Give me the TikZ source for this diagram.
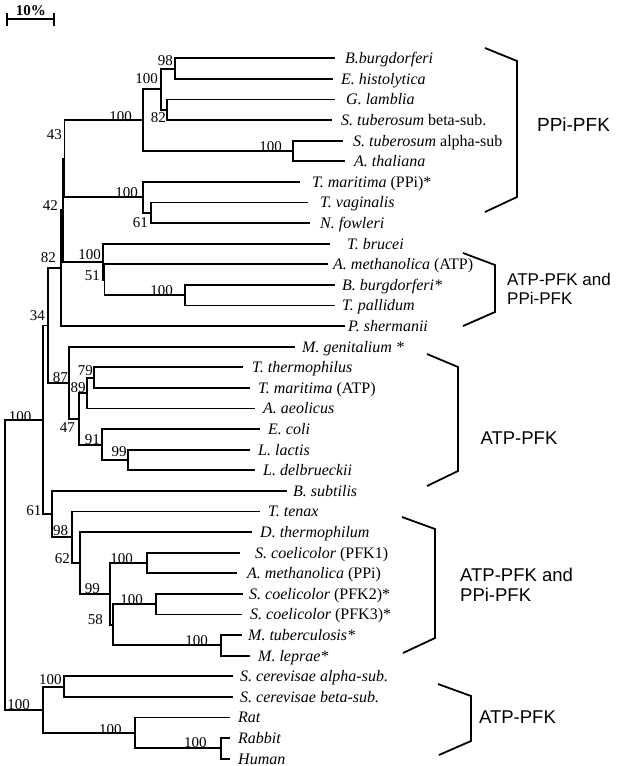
\documentclass[tikz,border=0pt]{standalone}
\usepackage{fontspec}
\setmainfont{Liberation Serif}
\newfontfamily\grpfont{Liberation Sans}
\usepackage{tikz}

\tikzset{
  branch/.style={line width=1.9pt, line join=miter},
  taxon/.style={anchor=base west, inner sep=0pt, font=\fontsize{16}{18}\selectfont},
  boot/.style={anchor=base east, inner sep=0pt, font=\fontsize{15}{17}\selectfont},
  clamp/.style={line width=1.8pt, line join=miter},
  group/.style={align=left, inner sep=0pt},
}

\begin{document}
\begin{tikzpicture}[x=1pt, y=-1pt]
  \useasboundingbox (0,0) rectangle (625,766);

  % scale bar
  \draw[branch] (7,19) -- (54,19) (7,13) -- (7,26) (54,13) -- (54,26);
  \node[inner sep=0pt, font=\bfseries\fontsize{15}{17}\selectfont] (scale) at (31,10.5) {10\%};

  % tree nodes
  \coordinate (root) at (5,564.8);
  \coordinate (n61b) at (43,419.8);
  \coordinate (n34) at (48.3,325.45);
  \coordinate (n82b) at (61,268.15);
  \coordinate (n42) at (63,210.2);
  \coordinate (n43) at (64.5,158.7);
  \coordinate (n100c) at (143,120.1);
  \coordinate (n100a) at (161,89.2);
  \coordinate (n98) at (175,68.6);
  \coordinate (n82a) at (167,109.8);
  \coordinate (n100b) at (293,151);
  \coordinate (n100d) at (143,197.35);
  \coordinate (n61a) at (151,212.8);
  \coordinate (n100f) at (103,261.7);
  \coordinate (n51) at (104.5,279.75);
  \coordinate (n100e) at (185,295.2);
  \coordinate (n87) at (69.3,382.75);
  \coordinate (n47) at (79,418.8);
  \coordinate (n89) at (86.7,393.05);
  \coordinate (n79) at (94,377.6);
  \coordinate (n91) at (101.7,444.55);
  \coordinate (n99a) at (128,460);
  \coordinate (n98b) at (51.7,514.1);
  \coordinate (n62) at (72.3,537.25);
  \coordinate (ndt) at (80,563);
  \coordinate (n99b) at (110,593.9);
  \coordinate (n100g) at (146.7,563);
  \coordinate (n58) at (113.3,624.8);
  \coordinate (n100h) at (155.7,604.2);
  \coordinate (n100i) at (221,645.4);
  \coordinate (n100m) at (43.3,709.8);
  \coordinate (n100j) at (64,686.6);
  \coordinate (n100l) at (135,733);
  \coordinate (n100k) at (220.7,748.4);

  % leaf ends and taxa
  \coordinate (e1) at (335,58.3);   \node[taxon] (t1) at (345,63.6) {\textit{B.burgdorferi}};
  \coordinate (e2) at (333,78.9);   \node[taxon] (t2) at (341,84.2) {\textit{E. histolytica}};
  \coordinate (e3) at (335,99.5);   \node[taxon] (t3) at (346,104.8) {\textit{G. lamblia}};
  \coordinate (e4) at (332,120.1);  \node[taxon] (t4) at (341,125.4) {\textit{S. tuberosum} beta-sub.};
  \coordinate (e5) at (343,140.7);  \node[taxon] (t5) at (353,146.0) {\textit{S. tuberosum} alpha-sub};
  \coordinate (e6) at (345,161.3);  \node[taxon] (t6) at (354,166.6) {\textit{A. thaliana}};
  \coordinate (e7) at (300,181.9);  \node[taxon] (t7) at (312,187.2) {\textit{T. maritima} (PPi)*};
  \coordinate (e8) at (308,202.5);  \node[taxon] (t8) at (320,207.8) {\textit{T. vaginalis}};
  \coordinate (e9) at (310,223.1);  \node[taxon] (t9) at (320,228.4) {\textit{N. fowleri}};
  \coordinate (e10) at (330,243.7); \node[taxon] (t10) at (347,249.0) {\textit{T. brucei}};
  \coordinate (e11) at (328,264.3); \node[taxon] (t11) at (333,269.6) {\textit{A. methanolica} (ATP)};
  \coordinate (e12) at (335,284.9); \node[taxon] (t12) at (342,290.2) {\textit{B. burgdorferi*}};
  \coordinate (e13) at (335,305.5); \node[taxon] (t13) at (342,310.8) {\textit{T. pallidum}};
  \coordinate (e14) at (345,326.1); \node[taxon] (t14) at (348,331.4) {\textit{P. shermanii}};
  \coordinate (e15) at (295,346.7); \node[taxon] (t15) at (302,352.0) {\textit{M. genitalium *}};
  \coordinate (e16) at (243,367.3); \node[taxon] (t16) at (252,372.6) {\textit{T. thermophilus}};
  \coordinate (e17) at (250,387.9); \node[taxon] (t17) at (258,393.2) {\textit{T. maritima} (ATP)};
  \coordinate (e18) at (255,408.5); \node[taxon] (t18) at (263,413.8) {\textit{A. aeolicus}};
  \coordinate (e19) at (260,429.1); \node[taxon] (t19) at (268,434.4) {\textit{E. coli}};
  \coordinate (e20) at (250,449.7); \node[taxon] (t20) at (258,455.0) {\textit{L. lactis}};
  \coordinate (e21) at (255,470.3); \node[taxon] (t21) at (263,475.6) {\textit{L. delbrueckii}};
  \coordinate (e22) at (287,490.9); \node[taxon] (t22) at (293,496.2) {\textit{B. subtilis}};
  \coordinate (e23) at (260,511.5); \node[taxon] (t23) at (268,516.8) {\textit{T. tenax}};
  \coordinate (e24) at (252,532.1); \node[taxon] (t24) at (260,537.4) {\textit{D. thermophilum}};
  \coordinate (e25) at (240,552.7); \node[taxon] (t25) at (255,558.0) {\textit{S. coelicolor} (PFK1)};
  \coordinate (e26) at (237,573.3); \node[taxon] (t26) at (247,578.6) {\textit{A. methanolica} (PPi)};
  \coordinate (e27) at (243,593.9); \node[taxon] (t27) at (249,599.2) {\textit{S. coelicolor} (PFK2)*};
  \coordinate (e28) at (242,614.5); \node[taxon] (t28) at (250,619.8) {\textit{S. coelicolor} (PFK3)*};
  \coordinate (e29) at (242,635.1); \node[taxon] (t29) at (248,640.4) {\textit{M. tuberculosis*}};
  \coordinate (e30) at (250,655.7); \node[taxon] (t30) at (258,661.0) {\textit{M. leprae*}};
  \coordinate (e31) at (233,676.3); \node[taxon] (t31) at (240,681.6) {\textit{S. cerevisae alpha-sub.}};
  \coordinate (e32) at (233,696.9); \node[taxon] (t32) at (240,702.2) {\textit{S. cerevisae beta-sub.}};
  \coordinate (e33) at (230,717.5); \node[taxon] (t33) at (238,722.8) {\textit{Rat}};
  \coordinate (e34) at (230,738.1); \node[taxon] (t34) at (238,743.4) {\textit{Rabbit}};
  \coordinate (e35) at (230,758.7); \node[taxon] (t35) at (238,764.0) {\textit{Human}};

  % branches
  \draw[branch] (root) |- (n61b) (root) |- (n100m)
    (n61b) |- (n34) (n61b) |- (n98b)
    (n34) |- (n82b) (n34) |- (n87)
    (n82b) |- (n42) (n82b) |- (e14)
    (n42) |- (n43) (n42) |- (n100f)
    (n43) |- (n100c) (n43) |- (n100d)
    (n100c) |- (n100a) (n100c) |- (n100b)
    (n100a) |- (n98) (n100a) |- (n82a)
    (n98) |- (e1) (n98) |- (e2)
    (n82a) |- (e3) (n82a) |- (e4)
    (n100b) |- (e5) (n100b) |- (e6)
    (n100d) |- (e7) (n100d) |- (n61a)
    (n61a) |- (e8) (n61a) |- (e9)
    (n100f) |- (e10) (n100f) |- (n51)
    (n51) |- (e11) (n51) |- (n100e)
    (n100e) |- (e12) (n100e) |- (e13)
    (n87) |- (e15) (n87) |- (n47)
    (n47) |- (n89) (n47) |- (n91)
    (n89) |- (n79) (n89) |- (e18)
    (n79) |- (e16) (n79) |- (e17)
    (n91) |- (e19) (n91) |- (n99a)
    (n99a) |- (e20) (n99a) |- (e21)
    (n98b) |- (e22) (n98b) |- (n62)
    (n62) |- (e23) (n62) |- (ndt)
    (ndt) |- (e24) (ndt) |- (n99b)
    (n99b) |- (n100g) (n99b) |- (n58)
    (n100g) |- (e25) (n100g) |- (e26)
    (n58) |- (n100h) (n58) |- (n100i)
    (n100h) |- (e27) (n100h) |- (e28)
    (n100i) |- (e29) (n100i) |- (e30)
    (n100m) |- (n100j) (n100m) |- (n100l)
    (n100j) |- (e31) (n100j) |- (e32)
    (n100l) |- (e33) (n100l) |- (n100k)
    (n100k) |- (e34) (n100k) |- (e35);

  % bootstrap values
  \node[boot] (b1) at (173,65) {98};
  \node[boot] (b2) at (158,83.3) {100};
  \node[boot] (b3) at (166,122.5) {82};
  \node[boot] (b4) at (132,121) {100};
  \node[boot] (b5) at (282,151.7) {100};
  \node[boot] (b6) at (62,139) {43};
  \node[boot] (b7) at (138,197.5) {100};
  \node[boot] (b8) at (148,227.5) {61};
  \node[boot] (b9) at (58,210.3) {42};
  \node[boot] (b10) at (56,262.5) {82};
  \node[boot] (b11) at (101,259.7) {100};
  \node[boot] (b12) at (100,280.3) {51};
  \node[boot] (b13) at (173,295) {100};
  \node[boot] (b14) at (45,320.3) {34};
  \node[boot] (b15) at (68,382) {87};
  \node[boot] (b16) at (93,375.3) {79};
  \node[boot] (b17) at (85.7,392) {89};
  \node[boot] (b18) at (75,432) {47};
  \node[boot] (b19) at (100,444.5) {91};
  \node[boot] (b20) at (126.7,456.3) {99};
  \node[boot] (b21) at (31.7,421.7) {100};
  \node[boot] (b22) at (41.7,515.3) {61};
  \node[boot] (b23) at (68.3,535.3) {98};
  \node[boot] (b24) at (70,563.7) {62};
  \node[boot] (b25) at (100,593.7) {99};
  \node[boot] (b26) at (133,563.3) {100};
  \node[boot] (b27) at (143,604) {100};
  \node[boot] (b28) at (103,624) {58};
  \node[boot] (b29) at (208,645) {100};
  \node[boot] (b30) at (61.7,684.5) {100};
  \node[boot] (b31) at (30,709) {100};
  \node[boot] (b32) at (121.7,734) {100};
  \node[boot] (b33) at (206.7,747.3) {100};

  % brackets and groups
  \draw[clamp] (485,48) -- (517,61) -- (517,197) -- (485,212);
  \draw[clamp] (463,253) -- (495,265) -- (495,312) -- (463,326);
  \draw[clamp] (427,354) -- (458,367) -- (458,471) -- (427,486);
  \draw[clamp] (402,517) -- (435,529) -- (435,638) -- (403,653);
  \draw[clamp] (438,684) -- (471,696) -- (471,741) -- (439,755);

  \node[group, font=\grpfont\fontsize{19}{21}\selectfont] (g1) at (573.5,125) {PPi-PFK};
  \node[group, anchor=west, font=\grpfont\fontsize{17}{18.5}\selectfont] (g2) at (507,289) {ATP-PFK and\\PPi-PFK};
  \node[group, font=\grpfont\fontsize{18.5}{21}\selectfont] (g3) at (519,438) {ATP-PFK};
  \node[group, anchor=west, font=\grpfont\fontsize{18.5}{20}\selectfont] (g4) at (460,585) {ATP-PFK and\\PPi-PFK};
  \node[group, font=\grpfont\fontsize{18.5}{21}\selectfont] (g5) at (517.5,717) {ATP-PFK};
\end{tikzpicture}
\end{document}
